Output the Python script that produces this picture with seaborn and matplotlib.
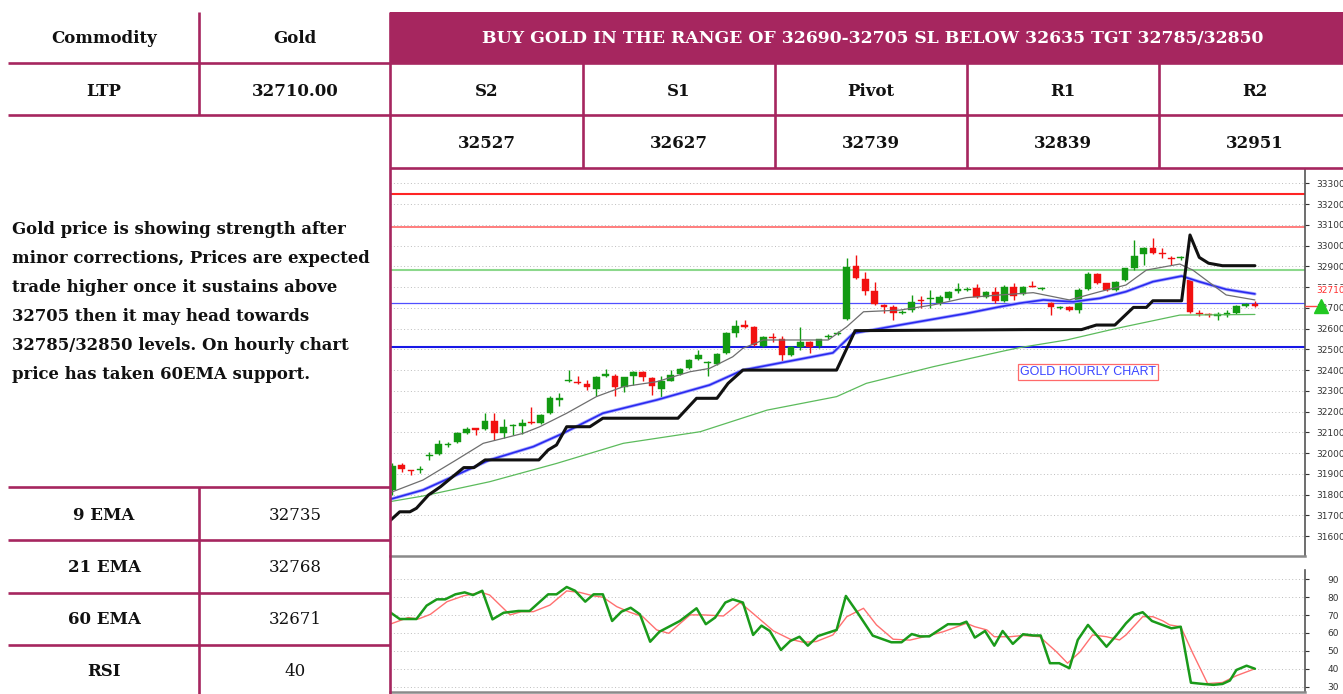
import matplotlib
matplotlib.use("Agg")
import matplotlib.pyplot as plt
import matplotlib.transforms as mtransforms
from matplotlib.patches import Rectangle
import seaborn as sns

# ---------------- data ----------------
opens = [31822, 31942, 31917, 31920, 31988, 31995, 32040, 32052, 32098, 32118,
         32114, 32156, 32095, 32130, 32132, 32148, 32143, 32192, 32259, 32346,
         32343, 32331, 32307, 32374, 32371, 32320, 32371, 32392, 32360, 32307,
         32349, 32381, 32408, 32452, 32434, 32429, 32481, 32580, 32614, 32606,
         32516, 32558, 32548, 32473, 32513, 32537, 32516, 32559, 32575, 32646,
         32901, 32837, 32783, 32711, 32702, 32674, 32689, 32736, 32744, 32722,
         32746, 32784, 32787, 32794, 32754, 32778, 32734, 32799, 32767, 32804,
         32792, 32722, 32700, 32705, 32689, 32789, 32863, 32818, 32786, 32834,
         32890, 32959, 32990, 32965, 32941, 32940, 32834, 32675, 32670, 32663,
         32668, 32676, 32712, 32718]
highs = [31950, 31952, 31920, 31939, 32007, 32063, 32055, 32100, 32127, 32122,
         32195, 32192, 32163, 32140, 32165, 32223, 32188, 32275, 32291, 32398,
         32370, 32350, 32372, 32404, 32380, 32368, 32395, 32395, 32365, 32371,
         32400, 32410, 32452, 32497, 32442, 32482, 32585, 32640, 32641, 32610,
         32566, 32580, 32564, 32518, 32606, 32540, 32552, 32574, 32590, 32939,
         32954, 32874, 32826, 32720, 32712, 32690, 32762, 32757, 32786, 32760,
         32782, 32818, 32798, 32815, 32782, 32802, 32810, 32821, 32806, 32829,
         32800, 32726, 32708, 32710, 32795, 32874, 32868, 32822, 32830, 32894,
         33027, 32994, 33035, 32987, 32950, 32950, 32840, 32690, 32675, 32681,
         32690, 32712, 32725, 32735]
lows = [31800, 31908, 31895, 31905, 31967, 31990, 32030, 32048, 32094, 32089,
        32111, 32063, 32071, 32087, 32092, 32140, 32140, 32188, 32227, 32344,
        32335, 32303, 32275, 32365, 32275, 32296, 32328, 32349, 32280, 32264,
        32345, 32375, 32403, 32448, 32371, 32425, 32478, 32560, 32601, 32518,
        32512, 32537, 32440, 32470, 32497, 32481, 32505, 32552, 32570, 32640,
        32838, 32762, 32712, 32676, 32641, 32668, 32680, 32697, 32700, 32715,
        32740, 32770, 32782, 32745, 32748, 32722, 32728, 32738, 32762, 32798,
        32788, 32665, 32696, 32685, 32673, 32785, 32814, 32782, 32782, 32830,
        32882, 32906, 32958, 32939, 32905, 32930, 32676, 32660, 32655, 32641,
        32655, 32672, 32705, 32705]
closes = [31938, 31922, 31913, 31924, 31992, 32044, 32044, 32095, 32114, 32114,
          32156, 32095, 32127, 32134, 32146, 32144, 32183, 32264, 32263, 32350,
          32339, 32320, 32368, 32378, 32320, 32365, 32392, 32365, 32323, 32347,
          32376, 32405, 32448, 32473, 32438, 32477, 32577, 32612, 32610, 32521,
          32561, 32554, 32473, 32513, 32537, 32513, 32548, 32563, 32579, 32898,
          32845, 32783, 32717, 32707, 32676, 32678, 32729, 32732, 32748, 32754,
          32778, 32788, 32791, 32751, 32778, 32734, 32802, 32757, 32802, 32800,
          32796, 32702, 32704, 32689, 32786, 32863, 32818, 32786, 32826, 32890,
          32950, 32987, 32963, 32961, 32937, 32944, 32681, 32671, 32666, 32667,
          32672, 32709, 32716, 32710]

ema9_x = [-0.25, 3.3, 6.9, 9.8, 14.1, 15.9, 18.8, 22.0, 24.9, 28.5, 32.1, 34.2,
          36.7, 37.8, 40.0, 47.0, 49.0, 50.8, 54.7, 58.3, 61.9, 65.5, 69.1,
          73.0, 76.3, 79.1, 81.3, 84.9, 86.3, 89.9, 93.0]
ema9_y = [31809, 31870, 31967, 32047, 32095, 32127, 32192, 32272, 32320, 32344,
          32392, 32408, 32464, 32505, 32545, 32545, 32609, 32681, 32689, 32714,
          32749, 32762, 32773, 32738, 32778, 32810, 32882, 32911, 32882, 32762,
          32738]
ema21_x = [-0.25, 3.3, 6.9, 10.5, 15.2, 18.4, 22.7, 28.5, 34.2, 37.8, 47.5,
           49.7, 54.7, 61.9, 65.5, 67.6, 70.2, 73.4, 76.3, 79.1, 82.0, 85.1,
           87.0, 89.9, 93.0]
ema21_y = [31777, 31822, 31894, 31967, 32031, 32095, 32192, 32256, 32328, 32400,
           32483, 32577, 32617, 32673, 32705, 32722, 32738, 32729, 32746, 32778,
           32826, 32853, 32826, 32789, 32767]
ema60_x = [-0.25, 3.3, 10.5, 17.7, 24.9, 33.2, 40.4, 47.9, 51.1, 58.3, 65.5,
           67.6, 72.7, 78.1, 84.9, 93.0]
ema60_y = [31766, 31793, 31862, 31950, 32047, 32103, 32207, 32272, 32336, 32416,
           32488, 32508, 32545, 32601, 32665, 32668]
stop_x = [-0.25, 0.8, 1.9, 2.6, 3.9, 5.2, 7.7, 8.8, 10.0, 15.8, 16.8, 17.7,
          18.8, 21.3, 22.7, 30.8, 32.8, 35.0, 36.2, 37.8, 47.9, 49.9, 68.4,
          74.3, 75.9, 77.9, 79.9, 81.3, 82.0, 85.1, 86.0, 87.0, 88.0, 89.5, 93.0]
stop_y = [31674, 31717, 31717, 31734, 31798, 31838, 31930, 31930, 31967, 31967,
          32015, 32039, 32127, 32127, 32168, 32168, 32264, 32264, 32336, 32400,
          32400, 32590, 32595, 32595, 32617, 32617, 32702, 32702, 32734, 32734,
          33051, 32943, 32915, 32903, 32903]

rsi_x = [-0.25, 0.8, 2.6, 3.7, 4.8, 5.7, 6.8, 7.8, 8.7, 9.7, 10.8, 12.0, 13.6,
         14.8, 16.8, 17.7, 18.8, 19.7, 20.8, 21.7, 22.7, 23.7, 24.7, 25.7, 26.7,
         27.8, 28.8, 31.0, 32.8, 33.8, 34.8, 35.9, 36.7, 37.8, 38.9, 39.8, 40.7,
         41.9, 42.9, 43.9, 44.8, 45.9, 47.9, 48.9, 50.2, 51.8, 53.8, 54.9, 56.0,
         56.9, 57.9, 59.9, 61.2, 61.9, 62.8, 63.9, 64.9, 65.8, 66.9, 68.0, 69.1,
         69.9, 70.9, 71.9, 73.0, 73.9, 75.0, 77.0, 78.1, 79.1, 80.0, 80.9, 81.9,
         84.0, 85.0, 86.1, 87.4, 88.5, 89.5, 90.3, 91.0, 92.1, 93.0]
rsi_y = [71.6, 67.8, 67.8, 75.3, 78.8, 78.8, 81.6, 82.7, 81.2, 83.6, 67.6, 71.3,
         72.3, 72.3, 81.6, 81.6, 85.7, 83.6, 77.5, 81.6, 81.6, 66.7, 71.9, 74.1,
         70.4, 55.1, 60.7, 66.7, 73.8, 64.9, 68.6, 77.0, 78.8, 77.0, 58.9, 64.1,
         61.1, 50.5, 55.5, 57.9, 52.9, 58.3, 61.7, 80.7, 71.0, 58.5, 54.8, 54.8,
         59.4, 58.1, 58.1, 64.9, 64.9, 66.3, 57.4, 61.1, 52.9, 61.1, 53.9, 59.3,
         58.6, 58.6, 43.1, 43.1, 40.3, 56.1, 64.5, 52.3, 58.9, 65.4, 70.1, 71.6,
         66.7, 62.6, 63.5, 32.2, 31.5, 31.0, 31.5, 33.4, 39.3, 41.7, 40.0]
sig_x = [-0.25, 1.7, 2.8, 4.1, 5.9, 7.7, 9.6, 10.5, 12.7, 13.9, 15.2, 17.0,
         18.8, 20.2, 21.7, 22.7, 24.2, 25.6, 27.0, 28.5, 29.8, 32.1, 33.5, 35.7,
         37.5, 39.3, 41.1, 42.9, 44.3, 45.7, 47.5, 49.0, 50.8, 52.2, 54.0, 55.8,
         57.6, 59.4, 61.9, 62.8, 64.1, 64.9, 66.6, 68.0, 69.8, 71.6, 72.8, 74.1,
         75.5, 77.0, 78.4, 79.1, 80.9, 82.0, 83.1, 83.8, 85.0, 86.3, 87.9, 89.5,
         91.0, 93.0]
sig_y = [64.9, 68.6, 67.8, 70.4, 77.5, 80.8, 82.7, 81.2, 70.1, 71.9, 71.9, 75.6,
         83.5, 82.7, 80.7, 80.0, 74.7, 71.6, 69.1, 61.7, 59.8, 70.1, 70.1, 69.5,
         77.0, 69.1, 61.1, 56.5, 54.8, 55.2, 58.9, 69.1, 73.8, 64.5, 56.5, 56.0,
         58.2, 60.7, 65.4, 63.5, 61.7, 57.9, 57.9, 58.6, 57.9, 49.5, 43.1, 49.2,
         58.9, 57.9, 56.1, 58.9, 69.1, 69.1, 66.7, 64.5, 63.5, 48.7, 31.7, 32.3,
         36.1, 40.0]

level_values = [33250, 33088, 32882, 32722, 32511]
level_colors = ["#FF2424", "#FF5A5A", "#8CD88C", "#4F4FFF", "#1818E6"]
level_widths = [1.5, 1.1, 1.5, 0.9, 1.5]

price_ticks = list(range(31600, 33301, 100))
rsi_ticks = [30, 40, 50, 60, 70, 80, 90]
session_ticks = [2.8, 18.8, 47.9, 69.9, 86.1]
ltp = 32710

header = "BUY GOLD IN THE RANGE OF 32690-32705 SL BELOW 32635 TGT 32785/32850"
level_names = ["S2", "S1", "Pivot", "R1", "R2"]
level_nums = ["32527", "32627", "32739", "32839", "32951"]
ind_names = ["9 EMA", "21 EMA", "60 EMA", "RSI"]
ind_vals = ["32735", "32768", "32671", "40"]
para = ["Gold price is showing strength after",
        "minor corrections, Prices are expected",
        "trade higher once it sustains above",
        "32705 then it may head towards",
        "32785/32850 levels. On hourly chart",
        "price has taken 60EMA support."]

# ---------------- style ----------------
sns.set_style("white")
plt.rcParams["font.family"] = ["DejaVu Sans"]
plt.rcParams["text.color"] = "#111111"

W, H = 1343, 694
MAG = "#A6265F"
GREEN = "#129A12"
RED = "#F21010"
INK = "#111111"

fig = plt.figure(figsize=(W / 100, H / 100), dpi=100)


def rect(x0, y0, x1, y1):
    return [x0 / W, 1 - y1 / H, (x1 - x0) / W, (y1 - y0) / H]


XLIM = (-0.25, 98.4)

# ---------------- price panel ----------------
ax = fig.add_axes(rect(390, 169, 1305, 556))
ax.set_xlim(*XLIM)
ax.set_ylim(31504, 33369)
ax.set_yticks(price_ticks)
ax.yaxis.tick_right()
ax.tick_params(axis="y", direction="out", length=3, width=0.8, pad=5,
               labelsize=6.5, colors="#333333")
ax.set_xticks(session_ticks)
ax.tick_params(axis="x", direction="in", length=3, width=0.8, labelbottom=False,
               colors="#888888")
ax.yaxis.grid(True, linestyle=(0, (1, 2.5)), color="#BDBDBD", lw=0.7)
ax.xaxis.grid(False)
for s in ["left", "top"]:
    ax.spines[s].set_visible(False)
ax.spines["right"].set_color("#555555")
ax.spines["right"].set_linewidth(1.2)
ax.spines["bottom"].set_color("#8A8A8A")
ax.spines["bottom"].set_linewidth(1.8)

for v, c, w in zip(level_values, level_colors, level_widths):
    ax.axhline(v, color=c, lw=w, zorder=2)

# candles
xs = list(range(len(opens)))
for i in xs:
    o, h, l, c = opens[i], highs[i], lows[i], closes[i]
    col = GREEN if c >= o else RED
    ax.vlines(i, l, h, color=col, lw=1.0, zorder=3)
    body = max(abs(c - o), 6)
    ax.bar(i, body, bottom=min(o, c) - (body - abs(c - o)) / 2, width=0.72,
           color=col, edgecolor=col, lw=0.3, zorder=4)

sns.lineplot(x=ema60_x, y=ema60_y, ax=ax, color="#5CBB5C", lw=0.9,
             estimator=None, sort=False, zorder=5)
sns.lineplot(x=ema21_x, y=ema21_y, ax=ax, color="#A9AAFF", lw=2.4,
             estimator=None, sort=False, zorder=5)
sns.lineplot(x=ema21_x, y=ema21_y, ax=ax, color="#2929F0", lw=1.2,
             estimator=None, sort=False, zorder=5)
sns.lineplot(x=ema9_x, y=ema9_y, ax=ax, color="#6E6E6E", lw=0.9,
             estimator=None, sort=False, zorder=5)
sns.lineplot(x=stop_x, y=stop_y, ax=ax, color="#111111", lw=2.2,
             estimator=None, sort=False, zorder=6)
ax.set_xlabel("")
ax.set_ylabel("")

ax.text(0.763, 0.475, "GOLD HOURLY CHART", transform=ax.transAxes,
        ha="center", va="center", fontsize=9, color="#3B45FF",
        family="Liberation Sans",
        bbox=dict(boxstyle="square,pad=0.15", fc="white", ec="#FF6A6A", lw=0.9))

# LTP marker outside the axis
bt = mtransforms.blended_transform_factory(ax.transAxes, ax.transData)
ax.plot([1.0, 1.013], [ltp, ltp], color="#FF4444", lw=1.0, transform=bt,
        clip_on=False, zorder=10)
ax.plot([1.018], [ltp], marker="^", ms=10, color="#22C822", transform=bt,
        clip_on=False, zorder=11, lw=0)
ax.annotate(str(ltp), xy=(1.012, ltp), xycoords=bt, xytext=(0, 11),
            textcoords="offset points", ha="left", va="center", fontsize=6.5,
            color="#FF3030", annotation_clip=False, zorder=12,
            bbox=dict(boxstyle="square,pad=0.1", fc="white", ec="none"))

# ---------------- RSI panel ----------------
ax2 = fig.add_axes(rect(390, 570, 1305, 692))
ax2.set_xlim(*XLIM)
ax2.set_ylim(27, 95.2)
ax2.set_yticks(rsi_ticks)
ax2.yaxis.tick_right()
ax2.tick_params(axis="y", direction="out", length=3, width=0.8, pad=13,
                labelsize=6.5, colors="#333333")
ax2.set_xticks(session_ticks)
ax2.tick_params(axis="x", direction="in", length=3, width=0.8,
                labelbottom=False, colors="#888888")
ax2.yaxis.grid(True, linestyle=(0, (1, 2.5)), color="#BDBDBD", lw=0.7)
ax2.xaxis.grid(False)
for s in ["left", "top"]:
    ax2.spines[s].set_visible(False)
ax2.spines["right"].set_color("#555555")
ax2.spines["right"].set_linewidth(1.2)
ax2.spines["bottom"].set_color("#8A8A8A")
ax2.spines["bottom"].set_linewidth(1.8)
sns.lineplot(x=sig_x, y=sig_y, ax=ax2, color="#FF7070", lw=1.0,
             estimator=None, sort=False, zorder=4)
sns.lineplot(x=rsi_x, y=rsi_y, ax=ax2, color="#1A9A1A", lw=1.8,
             estimator=None, sort=False, zorder=5)
ax2.set_xlabel("")
ax2.set_ylabel("")

# ---------------- table overlay ----------------
ov = fig.add_axes([0, 0, 1, 1], zorder=10)
ov.set_xlim(0, W)
ov.set_ylim(H, 0)
ov.axis("off")
ov.patch.set_alpha(0)

ov.add_patch(Rectangle((390, 12), W - 390, 51, color=MAG, lw=0))


def hline(y, x0, x1):
    ov.plot([x0, x1], [y, y], color=MAG, lw=1.9, solid_capstyle="butt")


def vline(x, y0, y1):
    ov.plot([x, x], [y0, y1], color=MAG, lw=1.9, solid_capstyle="butt")


hline(63, 8, W)
hline(115, 8, W)
hline(168, 390, W)
for y in [487, 540, 593, 645]:
    hline(y, 8, 390)
vline(199, 12, 115)
vline(390, 12, H)
for x in [583, 775, 967, 1159]:
    vline(x, 63, 168)
vline(199, 487, H)

SERIF = "DejaVu Serif"
FS = 12
ov.text(873, 38, header, ha="center", va="center", color="white",
        fontsize=12.4, fontweight="bold", family=SERIF)
ov.text(104, 38, "Commodity", ha="center", va="center", fontsize=FS,
        fontweight="bold", family=SERIF, color=INK)
ov.text(295, 38, "Gold", ha="center", va="center", fontsize=FS,
        fontweight="bold", family=SERIF, color=INK)
ov.text(104, 91, "LTP", ha="center", va="center", fontsize=FS,
        fontweight="bold", family=SERIF, color=INK)
ov.text(295, 91, "32710.00", ha="center", va="center", fontsize=FS,
        fontweight="bold", family=SERIF, color=INK)
centers = [487, 679, 871, 1063, 1255]
for cx, nm, nv in zip(centers, level_names, level_nums):
    ov.text(cx, 91, nm, ha="center", va="center", fontsize=FS,
            fontweight="bold", family=SERIF, color=INK)
    ov.text(cx, 143, nv, ha="center", va="center", fontsize=FS,
            fontweight="bold", family=SERIF, color=INK)
for k, (nm, vv) in enumerate(zip(ind_names, ind_vals)):
    yc = [515, 568, 620, 672][k]
    ov.text(104, yc, nm, ha="center", va="center", fontsize=FS,
            fontweight="bold", family=SERIF, color=INK)
    ov.text(295, yc, vv, ha="center", va="center", fontsize=FS,
            family=SERIF, color=INK)
for k, line in enumerate(para):
    ov.text(12, 229 + 29 * k, line, ha="left", va="center", fontsize=11.9,
            fontweight="bold", family=SERIF, color=INK)

fig.savefig("out.png", dpi=100)
